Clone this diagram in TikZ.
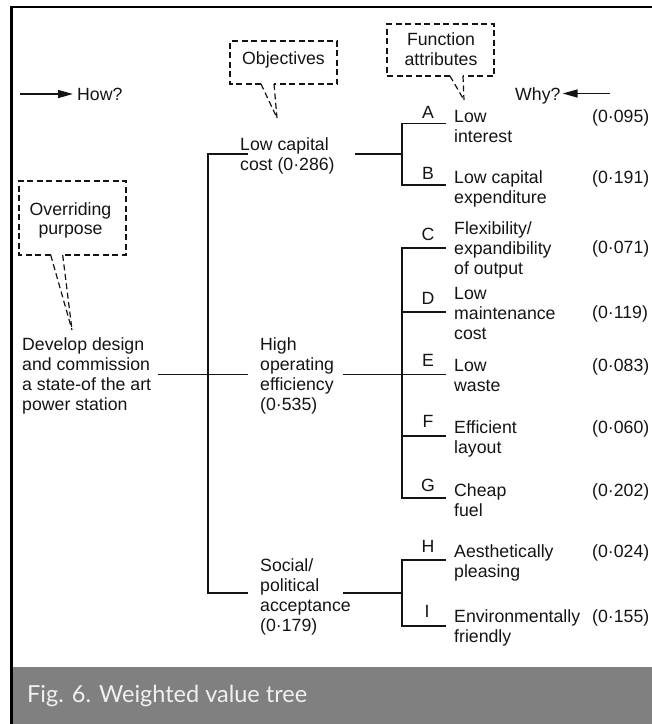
\documentclass[tikz,border=0pt]{standalone}
\usepackage{fontspec}
\setmainfont{Liberation Sans}
\newfontfamily\capfont{Lato}
\usetikzlibrary{arrows.meta}
\definecolor{capgray}{HTML}{808080}
\definecolor{ink}{HTML}{141414}
\newcommand{\mainsz}{\fontsize{17.7}{20.2}\selectfont}
\newcommand{\mlines}[1]{\begin{tabular}[t]{@{}l@{}}#1\end{tabular}}
\begin{document}
\begin{tikzpicture}[x=1pt,y=-1pt,
  txt/.style={inner sep=0pt, anchor=base west, font=\mainsz, text=ink},
  ctxt/.style={inner sep=0pt, anchor=base, font=\mainsz, text=ink},
  ln/.style={line width=1.5pt, draw=ink},
  dbox/.style={draw=ink, line width=1.2pt, dash pattern=on 6pt off 3.5pt},
  arr/.style={line width=1.4pt, draw=ink, -{Triangle[length=15pt,width=8pt]}}]
\useasboundingbox (0,0) rectangle (652,724);
% caption band and frame
\fill[capgray] (12.5,667) rectangle (652,724);
\draw[line width=2.5pt] (11.3,724) -- (11.3,7.2) -- (652,7.2);
\node[anchor=base west, inner sep=0pt, text=white!94!black,
      font=\capfont\fontsize{23.5}{28}\selectfont] (cap) at (27,702) {Fig. 6. Weighted value tree};

% How? / Why?
\node[txt] (how) at (77,100) {How?};
\coordinate (howstart) at (20,94);
\draw[arr] (howstart) -- ([xshift=-4pt]how.west |- howstart);
\node[txt] (why) at (515,100) {Why?};
\coordinate (whyend) at (610,93.5);
\draw[arr] (whyend) -- ([xshift=2pt]why.east |- whyend);

% callout boxes
\node[ctxt] (objt) at (283.5,64.5) {Objectives};
\coordinate (objtip) at (277,118);
\draw[dbox] (261,84) -- (230,84) -- (230,41) -- (337,41) -- (337,84) -- (274,84);
\draw[dbox] (261,84) -- (objtip);
\draw[dbox] (274,84) -- (objtip);

\node[ctxt] (fat1) at (441,45) {Function};
\node[ctxt] (fat2) at (441,65) {attributes};
\coordinate (fattip) at (464,100);
\draw[dbox] (450,76) -- (387,76) -- (387,24) -- (494,24) -- (494,76) -- (463,76);
\draw[dbox] (450,76) -- (fattip);
\draw[dbox] (463,76) -- (fattip);

\node[ctxt] (op1) at (70.5,215) {Overriding};
\node[ctxt] (op2) at (70.5,234) {purpose};
\coordinate (optip) at (72,330);
\draw[dbox] (50.7,255) -- (19,255) -- (19,181) -- (126,181) -- (126,255) -- (62.7,255);
\draw[dbox] (50.7,255) -- (optip);
\draw[dbox] (62.7,255) -- (optip);

% root
\node[txt] (root) at (22,350) {\mlines{Develop design\\and commission\\a state-of the art\\power station}};

% objectives
\node[txt] (o1) at (240,150) {\mlines{Low capital\\cost (0·286)}};
\node[txt] (o2) at (260,350) {\mlines{High\\operating\\efficiency\\(0·535)}};
\node[txt] (o3) at (260,571) {\mlines{Social/\\political\\acceptance\\(0·179)}};

% attributes
\node[txt] (aA) at (454,122) {\mlines{Low\\interest}};
\node[txt] (aB) at (454,183) {\mlines{Low capital\\expenditure}};
\node[txt] (aC) at (454,234) {\mlines{Flexibility/\\expandibility\\of output}};
\node[txt] (aD) at (454,299) {\mlines{Low\\maintenance\\cost}};
\node[txt] (aE) at (454,371) {\mlines{Low\\waste}};
\node[txt] (aF) at (454,433) {\mlines{Efficient\\layout}};
\node[txt] (aG) at (454,496) {\mlines{Cheap\\fuel}};
\node[txt] (aH) at (454,557) {\mlines{Aesthetically\\pleasing}};
\node[txt] (aI) at (454,622) {\mlines{Environmentally\\friendly}};

% letters
\node[ctxt] (lA) at (428,118) {A};
\node[ctxt] (lB) at (428,179) {B};
\node[ctxt] (lC) at (428,240) {C};
\node[ctxt] (lD) at (428,304) {D};
\node[ctxt] (lE) at (428,366) {E};
\node[ctxt] (lF) at (428,427) {F};
\node[ctxt] (lG) at (428,491) {G};
\node[ctxt] (lH) at (428,552) {H};
\node[ctxt] (lI) at (427,617) {I};

% weights
\node[txt] (wA) at (592,122) {(0·095)};
\node[txt] (wB) at (592,183) {(0·191)};
\node[txt] (wC) at (592,253) {(0·071)};
\node[txt] (wD) at (592,318) {(0·119)};
\node[txt] (wE) at (592,371) {(0·083)};
\node[txt] (wF) at (592,433) {(0·060)};
\node[txt] (wG) at (592,496) {(0·202)};
\node[txt] (wH) at (592,557) {(0·024)};
\node[txt] (wI) at (592,622) {(0·155)};

% tree connectors
\coordinate (r0) at (158,374.5);
\coordinate (t1) at (208,154);
\coordinate (t3) at (208,593);
\draw[ln] (r0) -- (248,374.5);
\draw[ln] (248,154) -- (t1) -- (t3) -- (248,593);

\coordinate (s1) at (355,154);
\coordinate (s2) at (343,374.5);
\coordinate (s3) at (343,593);
\draw[ln] (s1) -- (402,154);
\draw[ln] (446,123.5) -- (402,123.5) -- (402,185) -- (446,185);
\draw[ln] (s2) -- (446,374.5);
\draw[ln] (446,248) -- (402,248) -- (402,498) -- (446,498);
\draw[ln] (402,312) -- (446,312);
\draw[ln] (402,436) -- (446,436);
\draw[ln] (s3) -- (402,593);
\draw[ln] (446,560) -- (402,560) -- (402,626) -- (446,626);
\end{tikzpicture}
\end{document}
